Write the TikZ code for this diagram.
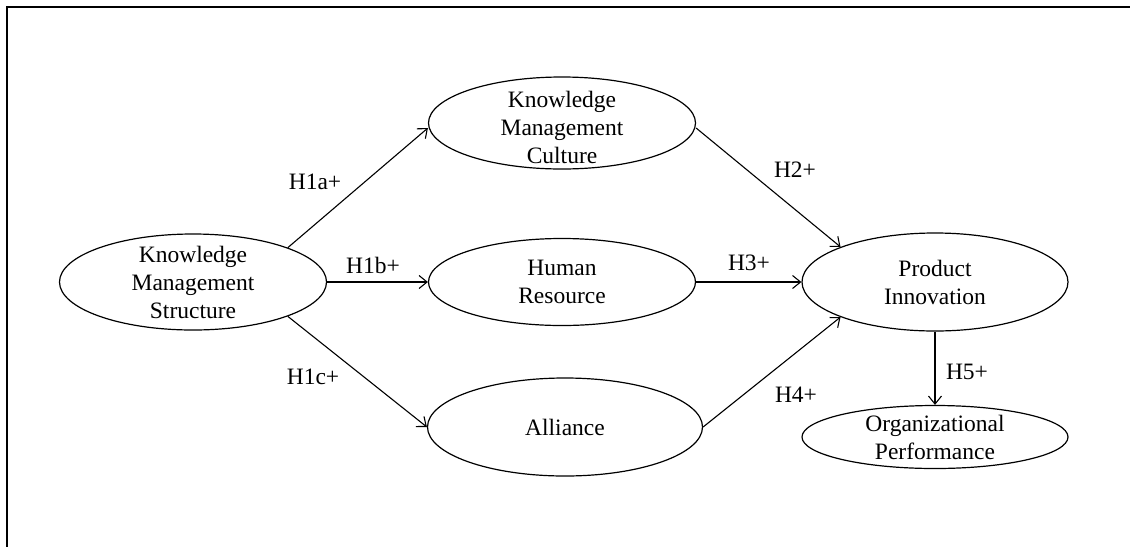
\documentclass[tikz,border=0pt]{standalone}
\usepackage{fontspec}
\setmainfont{Liberation Serif}
\usetikzlibrary{shapes.geometric,arrows.meta}
\begin{document}
\begin{tikzpicture}[x=1pt,y=-1pt,
  every node/.style={font=\fontsize{23.5}{28}\selectfont},
  oval/.style={ellipse, draw, line width=1.2pt, inner sep=0pt},
  txt/.style={align=center, inner sep=0pt},
  link/.style={draw, line width=1.1pt, -{Straight Barb[length=8pt,width=13pt,line width=1.1pt]}},
  hyp/.style={inner sep=0pt}]
\useasboundingbox (0,0) rectangle (1130,547);
\draw[line width=2pt] (1130,7) -- (7,7) -- (7,547);

\node[oval, minimum width=267pt, minimum height=96pt] (kms) at (193,282) {};
\node[txt] (kmsT) at (kms.center) {Knowledge\\Management\\Structure};
\node[oval, minimum width=267pt, minimum height=92pt] (kmc) at (562,123) {};
\node[txt] (kmcT) at ([yshift=-4pt]kmc.center) {Knowledge\\Management\\Culture};
\node[oval, minimum width=267pt, minimum height=87pt] (hr) at (562,282) {};
\node[txt] (hrT) at (hr.center) {Human\\Resource};
\node[oval, minimum width=275pt, minimum height=98pt] (al) at (565,427) {};
\node[txt] (alT) at (al.center) {Alliance};
\node[oval, minimum width=266pt, minimum height=98pt] (pi) at (935,282) {};
\node[txt] (piT) at (pi.center) {Product\\Innovation};
\node[oval, minimum width=266pt, minimum height=63pt] (op) at (935,437) {};
\node[txt] (opT) at (op.center) {Organizational\\Performance};

\draw[link] (kms.north east) -- ([yshift=-5pt]kmc.west);
\draw[link] (kms.east) -- (hr.west);
\draw[link] (kms.south east) -- (al.west);
\draw[link] ([yshift=-5pt]kmc.east) -- (pi.north west);
\draw[link] (hr.east) -- (pi.west);
\draw[link] (al.east) -- (pi.south west);
\draw[link] (pi.south) -- (op.north);

\node[hyp] (h1a) at (315,182) {H1a+};
\node[hyp] (h1b) at (373,265) {H1b+};
\node[hyp] (h1c) at (313,377) {H1c+};
\node[hyp] (h2) at (795,170) {H2+};
\node[hyp] (h3) at (749,263) {H3+};
\node[hyp] (h4) at (796,395) {H4+};
\node[hyp] (h5) at (967,372) {H5+};
\end{tikzpicture}
\end{document}
